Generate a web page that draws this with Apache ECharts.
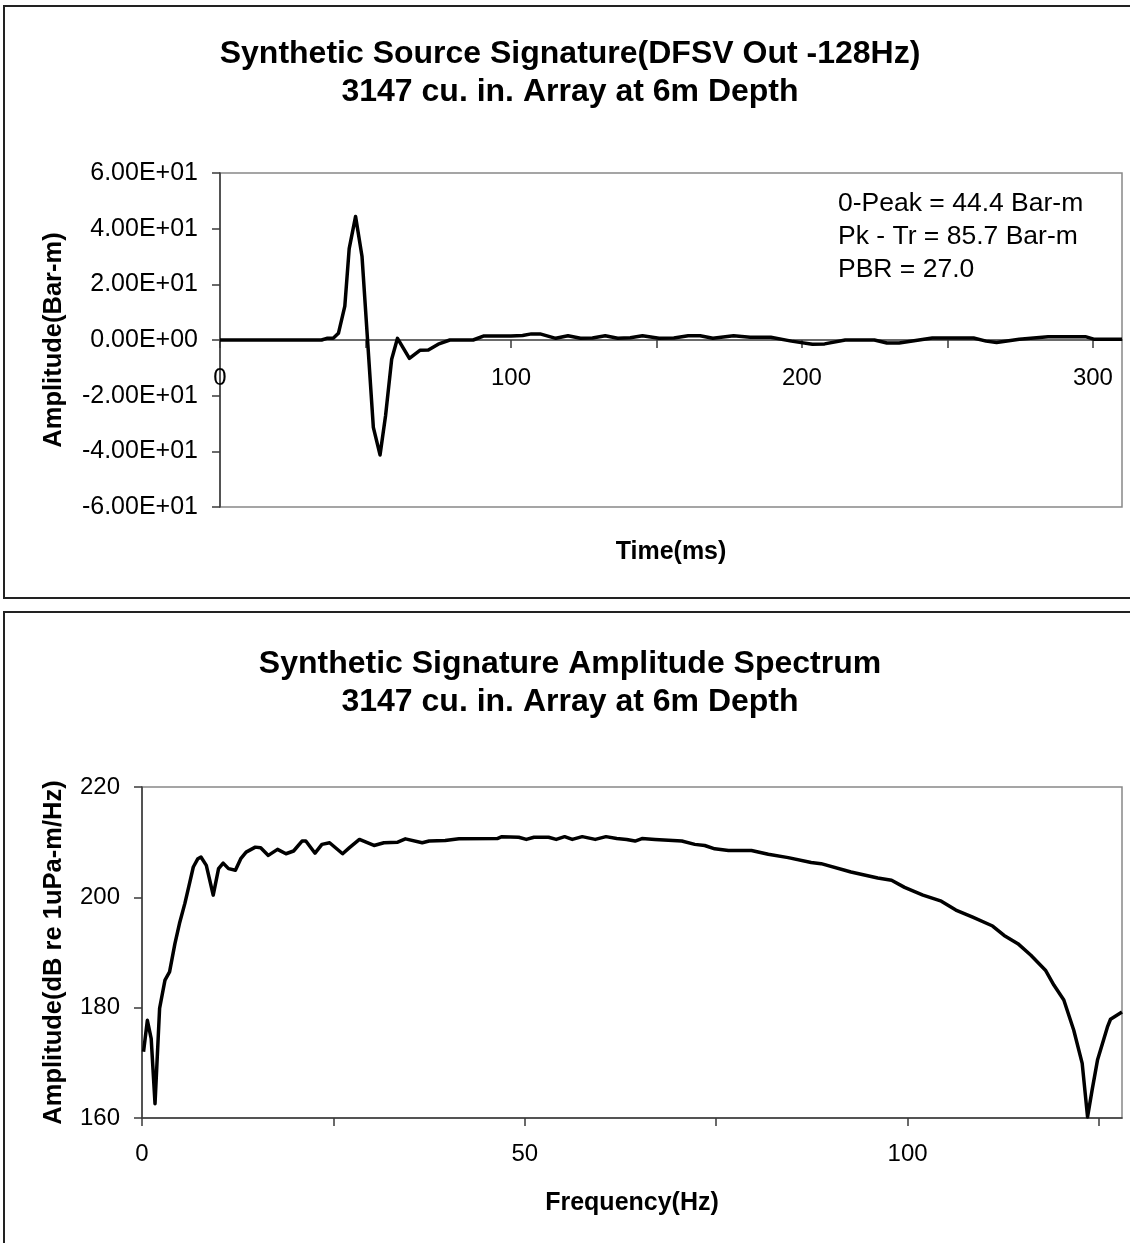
<!DOCTYPE html>
<html>
<head>
<meta charset="utf-8">
<script src="https://cdn.jsdelivr.net/npm/echarts@6/dist/echarts.min.js"></script>
<style>
  html, body { margin: 0; padding: 0; background: #fff; }
  #chart { width: 1130px; height: 1243px; }
</style>
</head>
<body>
<div id="chart"></div>
<script>
// ---------- Top chart: source signature ----------
const timeMs = [0, 34.9, 36.7, 38.9, 40.7, 42.9, 44.4, 46.6, 48.8, 52.7, 55.0, 56.9, 59.0, 61.0, 65.1,
  68.7, 71.6, 75.0, 79.0, 87.0, 90.5, 100, 104, 107, 110, 115.4, 119.6, 123.9, 128, 132.4,
  136.7, 141, 145.2, 150.9, 156, 160.9, 165, 169.4, 176.5, 182.2, 189.3, 196.4, 203.6, 207.8, 214.9,
  224.9, 229.2, 233.4, 244.8, 259.0, 263.3, 266.9, 274.7, 284.6, 297.4, 300.3, 310];
const amplitudeBarM = [0, 0, 0.6, 0.6, 2.4, 12.2, 32.8, 44.4, 30.1, -31.4, -41.3, -27.2, -6.9, 0.6, -6.6,
  -3.7, -3.6, -1.5, 0, 0, 1.4, 1.4, 1.6, 2.2, 2.2, 0.6, 1.5, 0.6, 0.7, 1.5,
  0.6, 0.8, 1.5, 0.6, 0.7, 1.5, 1.5, 0.6, 1.5, 1.0, 1.0, -0.4, -1.5, -1.4, 0,
  0, -1.1, -1.1, 0.7, 0.7, -0.4, -0.9, 0.3, 1.2, 1.2, 0.3, 0.3];
const timeTicks = [0, 50, 100, 150, 200, 250, 300];
const timeTickLabels = [0, 100, 200, 300];
const ampTicks = [-60, -40, -20, 0, 20, 40, 60];
const ampTickLabels = ['-6.00E+01', '-4.00E+01', '-2.00E+01', '0.00E+00', '2.00E+01', '4.00E+01', '6.00E+01'];
const annotationLines = ['0-Peak = 44.4 Bar-m', 'Pk - Tr = 85.7 Bar-m', 'PBR = 27.0'];

// ---------- Bottom chart: amplitude spectrum ----------
const freqHz = [0.2, 0.7, 1.2, 1.7, 2.3, 3.0, 3.6, 4.3, 4.9, 5.6, 6.2, 6.7, 7.3, 7.7, 8.4,
  9.3, 10.0, 10.6, 11.3, 12.2, 12.9, 13.6, 14.8, 15.5, 16.5, 17.7, 18.8, 19.8, 20.9, 21.4,
  22.6, 23.5, 24.5, 26.2, 27.1, 28.4, 30.3, 31.6, 33.4, 34.4, 36.6, 37.5, 39.6, 41.4, 46.4,
  47.0, 49.2, 50.2, 51.2, 53.1, 54.1, 55.2, 56.2, 57.5, 59.2, 60.6, 62.0, 63.3, 64.4, 65.3,
  67.0, 70.5, 72.2, 73.5, 74.8, 76.6, 79.6, 81.8, 84.4, 87.4, 88.7, 92.6, 96.1, 97.9, 99.6,
  102.0, 104.4, 106.3, 108.5, 111.1, 112.6, 114.4, 116.1, 118.0, 119.1, 120.4, 121.7, 122.8, 123.5, 124.1,
  124.8, 126.1, 126.5, 128.0];
const spectrumDb = [172.0, 177.7, 174.4, 162.6, 179.9, 185.0, 186.5, 191.6, 195.3, 198.9, 202.5, 205.5, 207.0, 207.3, 205.8,
  200.4, 205.2, 206.2, 205.2, 204.9, 207.0, 208.2, 209.1, 209.0, 207.6, 208.7, 207.9, 208.4, 210.2, 210.2,
  208.0, 209.6, 209.9, 207.9, 209.0, 210.5, 209.4, 209.9, 210.0, 210.6, 209.9, 210.2, 210.3, 210.6, 210.65,
  211.0, 210.9, 210.5, 210.9, 210.9, 210.5, 211.0, 210.5, 211.0, 210.5, 211.0, 210.65, 210.5, 210.2, 210.65,
  210.5, 210.2, 209.6, 209.4, 208.8, 208.5, 208.5, 207.8, 207.2, 206.3, 206.1, 204.6, 203.5, 203.1, 201.8,
  200.4, 199.3, 197.7, 196.4, 194.8, 193.1, 191.6, 189.5, 186.8, 184.1, 181.4, 175.9, 169.9, 160.2, 165.1,
  170.5, 176.5, 177.9, 179.2];
const freqTicks = [0, 25, 50, 75, 100, 125];
const freqTickLabels = [0, 50, 100];
const dbTicks = [160, 180, 200, 220];

const FONT = '"Liberation Sans", Arial, sans-serif';
const axisColor = '#3a3a3a';

const chart = echarts.init(document.getElementById('chart'), null, { renderer: 'canvas' });

function ampLabel(v) {
  const i = ampTicks.indexOf(Math.round(v));
  return i >= 0 ? ampTickLabels[i] : '';
}

const titleStyle = { fontFamily: FONT, fontSize: 32, fontWeight: 'bold', color: '#000', lineHeight: 38 };

const option = {
  animation: false,
  backgroundColor: '#fff',
  title: [
    {
      text: 'Synthetic Source Signature(DFSV Out -128Hz)\n3147 cu. in. Array at 6m Depth',
      left: 565, top: 30, textAlign: 'center', textStyle: titleStyle
    },
    {
      text: 'Synthetic Signature Amplitude Spectrum\n3147 cu. in. Array at 6m Depth',
      left: 565, top: 640, textAlign: 'center', textStyle: titleStyle
    }
  ],
  graphic: [
    { type: 'rect', z: -10, shape: { x: 4, y: 6, width: 1140, height: 592 },
      style: { fill: null, stroke: '#222', lineWidth: 2 } },
    { type: 'rect', z: -10, shape: { x: 4, y: 612, width: 1140, height: 700 },
      style: { fill: null, stroke: '#222', lineWidth: 2 } },
    { type: 'text', left: 838, top: 187, z: 10,
      style: { text: annotationLines.join('\n'), font: '26.5px ' + FONT, fill: '#000', lineHeight: 33 } }
  ],
  grid: [
    { left: 220, top: 173, width: 902, height: 334, show: true, borderColor: '#888', borderWidth: 1.5 },
    { left: 142, top: 787, width: 980, height: 331, show: true, borderColor: '#888', borderWidth: 1.5 }
  ],
  xAxis: [
    {
      type: 'value', gridIndex: 0, min: 0, max: 310,
      name: 'Time(ms)', nameLocation: 'middle', nameGap: 33,
      nameTextStyle: { fontFamily: FONT, fontSize: 25, fontWeight: 'bold', color: '#000' },
      axisLine: { show: true, onZero: true, lineStyle: { color: axisColor, width: 1.5 } },
      axisTick: { show: true, length: 8, customValues: timeTicks, lineStyle: { color: axisColor, width: 1.5 } },
      axisLabel: { customValues: timeTickLabels, fontFamily: FONT, fontSize: 24, color: '#000', margin: -141 },
      splitLine: { show: false }
    },
    {
      type: 'value', gridIndex: 1, min: 0, max: 128,
      name: 'Frequency(Hz)', nameLocation: 'middle', nameGap: 73,
      nameTextStyle: { fontFamily: FONT, fontSize: 25, fontWeight: 'bold', color: '#000' },
      axisLine: { show: true, lineStyle: { color: axisColor, width: 1.5 } },
      axisTick: { show: true, length: 8, customValues: freqTicks, lineStyle: { color: axisColor, width: 1.5 } },
      axisLabel: { customValues: freqTickLabels, fontFamily: FONT, fontSize: 24, color: '#000', margin: 24 },
      splitLine: { show: false }
    }
  ],
  yAxis: [
    {
      type: 'value', gridIndex: 0, min: -60, max: 60, interval: 20,
      name: 'Amplitude(Bar-m)', nameLocation: 'middle', nameGap: 153,
      nameTextStyle: { fontFamily: FONT, fontSize: 25.5, fontWeight: 'bold', color: '#000' },
      axisLine: { show: true, lineStyle: { color: axisColor, width: 1.5 } },
      axisTick: { show: true, length: 8, lineStyle: { color: axisColor, width: 1.5 } },
      axisLabel: { formatter: ampLabel, fontFamily: FONT, fontSize: 25, color: '#000', margin: 22 },
      splitLine: { show: false }
    },
    {
      type: 'value', gridIndex: 1, min: 160, max: 220, interval: 20,
      name: 'Amplitude(dB re 1uPa-m/Hz)', nameLocation: 'middle', nameGap: 75,
      nameTextStyle: { fontFamily: FONT, fontSize: 25.5, fontWeight: 'bold', color: '#000' },
      axisLine: { show: true, lineStyle: { color: axisColor, width: 1.5 } },
      axisTick: { show: true, length: 8, customValues: dbTicks, lineStyle: { color: axisColor, width: 1.5 } },
      axisLabel: { fontFamily: FONT, fontSize: 24, color: '#000', margin: 22 },
      splitLine: { show: false }
    }
  ],
  series: [
    {
      type: 'line', xAxisIndex: 0, yAxisIndex: 0,
      data: timeMs.map((t, i) => [t, amplitudeBarM[i]]),
      showSymbol: false, silent: true,
      lineStyle: { color: '#000', width: 3.5, join: 'round' }
    },
    {
      type: 'line', xAxisIndex: 1, yAxisIndex: 1,
      data: freqHz.map((f, i) => [f, spectrumDb[i]]),
      showSymbol: false, silent: true,
      lineStyle: { color: '#000', width: 3.5, join: 'round' }
    }
  ]
};
chart.setOption(option);
</script>
</body>
</html>
